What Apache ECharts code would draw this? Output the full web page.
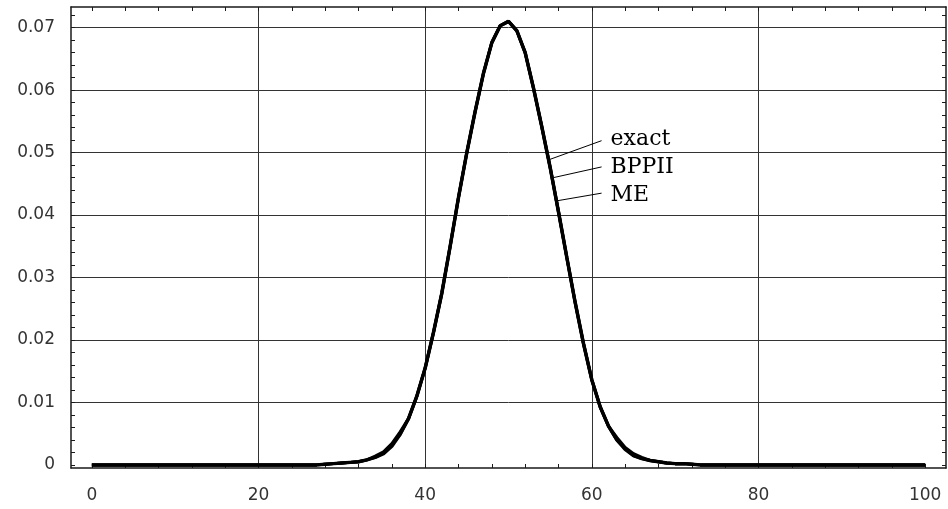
<!DOCTYPE html>
<html>
<head>
<meta charset="utf-8">
<script src="https://cdn.jsdelivr.net/npm/echarts@6/dist/echarts.min.js"></script>
<style>
  html, body { margin: 0; padding: 0; background: #fff; }
  #chart { width: 948px; height: 509px; }
</style>
</head>
<body>
<div id="chart"></div>
<script>
const xValues = [
  0, 1, 2, 3, 4, 5, 6, 7, 8, 9, 10, 11, 12, 13, 14, 15, 16, 17, 18, 19,
  20, 21, 22, 23, 24, 25, 26, 27, 28, 29, 30, 31, 32, 33, 34, 35, 36, 37, 38, 39,
  40, 41, 42, 43, 44, 45, 46, 47, 48, 49, 50, 51, 52, 53, 54, 55, 56, 57, 58, 59,
  60, 61, 62, 63, 64, 65, 66, 67, 68, 69, 70, 71, 72, 73, 74, 75, 76, 77, 78, 79,
  80, 81, 82, 83, 84, 85, 86, 87, 88, 89, 90, 91, 92, 93, 94, 95, 96, 97, 98, 99, 100
];

const exactValues = [
  0, 0, 0, 0, 0, 0, 0, 0, 0, 0, 0, 0, 0, 0, 0, 0, 0, 0, 0, 0,
  0, 0, 0, 0, 0, 0, 0, 0, 0.0001, 0.0002, 0.0003, 0.0004, 0.0005, 0.0008, 0.0012, 0.0018, 0.0030, 0.0049, 0.0074, 0.0110,
  0.0155, 0.0212, 0.0275, 0.0350, 0.0428, 0.0500, 0.0566, 0.0627, 0.0676, 0.0703, 0.0710, 0.0695, 0.0660, 0.0603, 0.0541, 0.0476, 0.0405, 0.0332, 0.0260, 0.0194,
  0.0136, 0.0093, 0.0062, 0.0040, 0.0025, 0.0015, 0.0010, 0.0007, 0.0005, 0.0003, 0.0002, 0.0002, 0.0001, 0, 0, 0, 0, 0, 0, 0,
  0, 0, 0, 0, 0, 0, 0, 0, 0, 0, 0, 0, 0, 0, 0, 0, 0, 0, 0, 0, 0
];

const bppiiValues = [
  0, 0, 0, 0, 0, 0, 0, 0, 0, 0, 0, 0, 0, 0, 0, 0, 0, 0, 0, 0,
  0, 0, 0, 0, 0, 0, 0, 0, 0.0001, 0.0002, 0.0003, 0.0004, 0.0005, 0.0008, 0.0014, 0.0021, 0.0034, 0.0053, 0.0074, 0.0110,
  0.0155, 0.0212, 0.0275, 0.0350, 0.0428, 0.0500, 0.0566, 0.0627, 0.0676, 0.0703, 0.0710, 0.0695, 0.0660, 0.0603, 0.0541, 0.0476, 0.0405, 0.0332, 0.0260, 0.0194,
  0.0136, 0.0093, 0.0062, 0.0044, 0.0028, 0.0018, 0.0012, 0.0007, 0.0005, 0.0003, 0.0002, 0.0002, 0.0001, 0, 0, 0, 0, 0, 0, 0,
  0, 0, 0, 0, 0, 0, 0, 0, 0, 0, 0, 0, 0, 0, 0, 0, 0, 0, 0, 0, 0
];

const meValues = [
  0, 0, 0, 0, 0, 0, 0, 0, 0, 0, 0, 0, 0, 0, 0, 0, 0, 0, 0, 0,
  0, 0, 0, 0, 0, 0, 0, 0, 0.0001, 0.0002, 0.0003, 0.0004, 0.0005, 0.0008, 0.0012, 0.0019, 0.0032, 0.0049, 0.0074, 0.0110,
  0.0155, 0.0212, 0.0275, 0.0350, 0.0428, 0.0500, 0.0566, 0.0627, 0.0676, 0.0703, 0.0710, 0.0695, 0.0660, 0.0603, 0.0541, 0.0476, 0.0405, 0.0332, 0.0260, 0.0194,
  0.0136, 0.0093, 0.0062, 0.0040, 0.0026, 0.0015, 0.0010, 0.0007, 0.0005, 0.0003, 0.0002, 0.0002, 0.0001, 0, 0, 0, 0, 0, 0, 0,
  0, 0, 0, 0, 0, 0, 0, 0, 0, 0, 0, 0, 0, 0, 0, 0, 0, 0, 0, 0, 0
];

const seriesNames = ['exact', 'BPPII', 'ME'];

const xTickValues = [0, 4, 8, 12, 16, 20, 24, 28, 32, 36, 40, 44, 48, 52, 56, 60, 64, 68, 72, 76, 80, 84, 88, 92, 96, 100];
const xLabelValues = [0, 20, 40, 60, 80, 100];
const xGridValues = [20, 40, 60, 80];

const yTickValues = [
  0, 0.002, 0.004, 0.006, 0.008, 0.01, 0.012, 0.014, 0.016, 0.018,
  0.02, 0.022, 0.024, 0.026, 0.028, 0.03, 0.032, 0.034, 0.036, 0.038,
  0.04, 0.042, 0.044, 0.046, 0.048, 0.05, 0.052, 0.054, 0.056, 0.058,
  0.06, 0.062, 0.064, 0.066, 0.068, 0.07, 0.072
];
const yLabelValues = [0, 0.01, 0.02, 0.03, 0.04, 0.05, 0.06, 0.07];
const yGridValues = [0.01, 0.02, 0.03, 0.04, 0.05, 0.06, 0.07];

// leader lines: point on the curve -> start of the label
const leaderCurvePoints = [[54.96, 0.0489], [55.44, 0.0460], [55.92, 0.0423]];
const leaderTextPoints = [[61.17, 0.0519], [61.17, 0.0477], [61.17, 0.0435]];
const labelPoints = [[61.17, 0.0522], [61.17, 0.0476], [61.17, 0.0431]];

const xRange = [-2.5, 102.5];
const yRange = [-0.0005, 0.0733];

const frameColor = '#1a1a1a';
const gridColor = '#333';

const frameAxis = (position, ticks, labels) => ({
  type: 'value',
  position,
  min: position === 'bottom' || position === 'top' ? xRange[0] : yRange[0],
  max: position === 'bottom' || position === 'top' ? xRange[1] : yRange[1],
  axisLine: { show: true, onZero: false, lineStyle: { color: frameColor, width: 1.5 } },
  axisTick: { show: true, inside: true, length: 4, customValues: ticks, lineStyle: { color: frameColor } },
  axisLabel: labels ? {
    show: true,
    customValues: labels,
    margin: (position === 'bottom') ? 19 : 16,
    fontFamily: 'DejaVu Sans',
    fontSize: 17,
    color: '#333',
    formatter: (v) => (v === 0 ? '0' : (position === 'left' ? v.toFixed(2) : String(v)))
  } : { show: false },
  splitLine: { show: false }
});

const gridAxis = (position, values) => ({
  type: 'value',
  position,
  min: position === 'bottom' ? xRange[0] : yRange[0],
  max: position === 'bottom' ? xRange[1] : yRange[1],
  axisLine: { show: false },
  axisTick: { show: false, customValues: values },
  axisLabel: { show: false },
  splitLine: { show: true, lineStyle: { color: gridColor, width: 1 } }
});

const makeData = (values) => xValues.map((x, i) => [x, values[i]]);

const chart = echarts.init(document.getElementById('chart'));

chart.setOption({
  animation: false,
  backgroundColor: '#fff',
  grid: { left: 71, right: 2, top: 7, bottom: 41 },
  xAxis: [
    frameAxis('bottom', xTickValues, xLabelValues),
    frameAxis('top', xTickValues, null),
    gridAxis('bottom', xGridValues)
  ],
  yAxis: [
    frameAxis('left', yTickValues, yLabelValues),
    frameAxis('right', yTickValues, null),
    gridAxis('left', yGridValues)
  ],
  series: [
    {
      name: seriesNames[0],
      type: 'line',
      data: makeData(exactValues),
      showSymbol: false,
      silent: true,
      z: 5,
      lineStyle: { color: '#000', width: 3.5 },
      markLine: {
        silent: true,
        symbol: ['none', 'none'],
        lineStyle: { color: '#000', width: 1, type: 'solid' },
        label: { show: false },
        data: leaderCurvePoints.map((p, i) => [{ coord: p }, { coord: leaderTextPoints[i] }])
      },
      markPoint: {
        silent: true,
        symbol: 'circle',
        symbolSize: 0,
        label: {
          show: true,
          position: 'right',
          distance: 9,
          fontFamily: 'DejaVu Serif',
          fontSize: 22,
          color: '#000',
          formatter: (p) => p.name
        },
        data: labelPoints.map((p, i) => ({ name: seriesNames[i], coord: p }))
      }
    },
    {
      name: seriesNames[1],
      type: 'line',
      data: makeData(bppiiValues),
      showSymbol: false,
      silent: true,
      z: 4,
      lineStyle: { color: '#000', width: 3 }
    },
    {
      name: seriesNames[2],
      type: 'line',
      data: makeData(meValues),
      showSymbol: false,
      silent: true,
      z: 4,
      lineStyle: { color: '#000', width: 3 }
    }
  ]
});
</script>
</body>
</html>
